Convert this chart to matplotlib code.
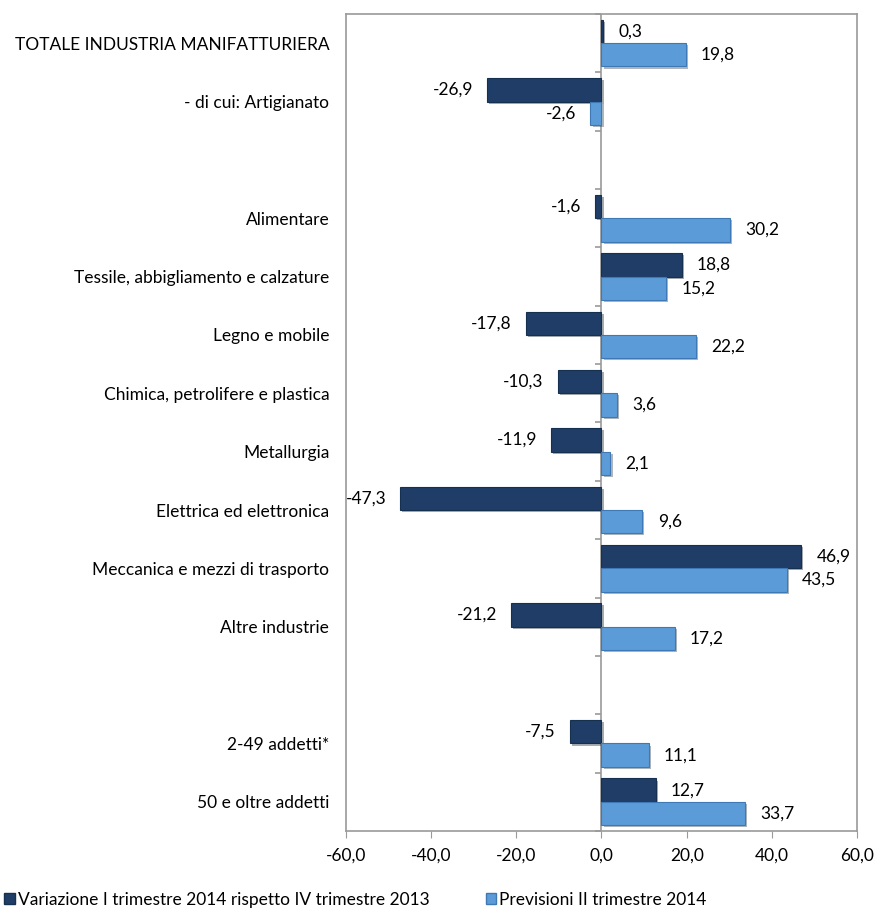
import numpy as np
import matplotlib
matplotlib.use("Agg")
import matplotlib.pyplot as plt
from matplotlib.patches import Patch
from matplotlib import patheffects as pe

plt.rcParams['font.family'] = ['Lato', 'DejaVu Sans']

# categories top to bottom (blank strings = empty separator rows)
categories = ["TOTALE INDUSTRIA MANIFATTURIERA", "- di cui: Artigianato", "",
              "Alimentare", "Tessile, abbigliamento e calzature", "Legno e mobile",
              "Chimica, petrolifere e plastica", "Metallurgia", "Elettrica ed elettronica",
              "Meccanica e mezzi di trasporto", "Altre industrie", "",
              "2-49 addetti*", "50 e oltre addetti"]
variazione = [0.3, -26.9, np.nan, -1.6, 18.8, -17.8, -10.3, -11.9, -47.3, 46.9, -21.2, np.nan, -7.5, 12.7]
previsioni = [19.8, -2.6, np.nan, 30.2, 15.2, 22.2, 3.6, 2.1, 9.6, 43.5, 17.2, np.nan, 11.1, 33.7]
series_names = ["Variazione I trimestre 2014 rispetto IV trimestre 2013", "Previsioni II trimestre 2014"]
xticks = [-60, -40, -20, 0, 20, 40, 60]

dark = "#1f3d66"
light = "#5b9bd8"
grey = "#9a9a9a"
fs = 12.5

fig = plt.figure(figsize=(8.77, 9.13), dpi=100)
ax = fig.add_axes([0.3945, 0.0898, 0.5827, 0.8949])

n = len(categories)
y = np.arange(n)[::-1]
h = 0.4
shadow = [pe.SimplePatchShadow(offset=(1.5, -1.5), alpha=0.35), pe.Normal()]

b1 = ax.barh(y + h / 2, variazione, height=h, color=dark, edgecolor="#16304f", linewidth=0.8, zorder=3)
b2 = ax.barh(y - h / 2, previsioni, height=h, color=light, edgecolor="#3f79b5", linewidth=0.8, zorder=3)
for b in list(b1) + list(b2):
    b.set_path_effects(shadow)

# value labels
for vals, off in ((variazione, h / 2), (previsioni, -h / 2)):
    for yi, v in zip(y, vals):
        if np.isnan(v):
            continue
        txt = f"{v:.1f}".replace(".", ",")
        if v >= 0:
            ax.annotate(txt, (v, yi + off), xytext=(11, 0), textcoords="offset points",
                        ha="left", va="center", fontsize=fs)
        else:
            ax.annotate(txt, (v, yi + off), xytext=(-10, 0), textcoords="offset points",
                        ha="right", va="center", fontsize=fs)

ax.set_xlim(-60, 60)
ax.set_ylim(-0.5, n - 0.5)
ax.set_xticks(xticks)
ax.set_xticklabels([f"{t:.1f}".replace(".", ",") for t in xticks], fontsize=fs)
ax.set_yticks(y)
ax.set_yticklabels(categories, fontsize=fs)
ax.tick_params(axis="y", length=0, pad=12)
ax.tick_params(axis="x", direction="out", length=5, color=grey, pad=7)

for s in ax.spines.values():
    s.set_color(grey)
    s.set_linewidth(1.2)

# vertical zero axis with category boundary ticks
ax.axvline(0, color=grey, linewidth=1.2, zorder=2)
bounds = np.arange(n + 1) - 0.5
ax.plot(np.zeros(len(bounds)), bounds, linestyle="none", marker=0, markersize=4,
        color=grey, markeredgewidth=1.2, clip_on=False, zorder=2)

handles = [Patch(facecolor=dark, edgecolor="#16304f"), Patch(facecolor=light, edgecolor="#3f79b5")]
fig.legend(handles, series_names, loc="center left", bbox_to_anchor=(-0.003, 0.0145), ncol=2,
           frameon=False, fontsize=fs, handlelength=0.6, handleheight=0.6, handletextpad=0.2,
           columnspacing=3.2, borderaxespad=0)

fig.savefig("out.png", dpi=100)
